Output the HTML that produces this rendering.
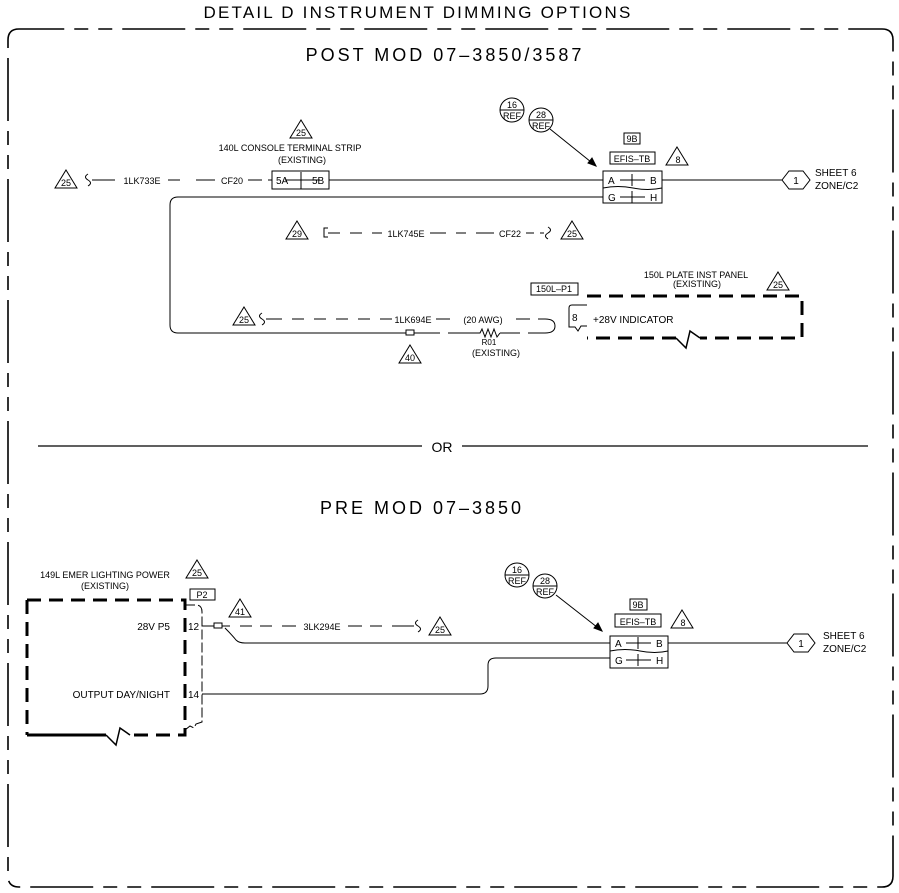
<!DOCTYPE html>
<html><head><meta charset="utf-8"><style>
html,body{margin:0;padding:0;background:#fff;}
svg{display:block;}
text{font-family:"Liberation Sans",sans-serif;fill:#000;}
</style></head><body>
<svg width="899" height="893" viewBox="0 0 899 893" xmlns="http://www.w3.org/2000/svg">
<defs>
<g id="tri"><path d="M0,-12 L11,6 L-11,6 Z" fill="none" stroke="#000" stroke-width="1"/></g>
</defs>
<path d="M8,40 Q8,29 19,29 L882,29 Q893,29 893,40 L893,876 Q893,887 882,887 L19,887 Q8,887 8,876 Z" fill="none" stroke="#000" stroke-width="1.6" stroke-dasharray="63 10 14 10 14 10"/>
<text x="418" y="18" font-size="17" text-anchor="middle" letter-spacing="2.2">DETAIL D INSTRUMENT DIMMING OPTIONS</text>
<text x="445" y="61" font-size="18" text-anchor="middle" letter-spacing="3">POST MOD 07–3850/3587</text>

<g stroke="#000" fill="none" stroke-width="1">
<path d="M88,174 q-5,3 0,6 q5,3 0,6"/>
<path d="M92,180 L115,180 M168,180 L180,180 M196,180 L215,180 M248,180 L262,180 M268,180 L272,180" />
<rect x="272" y="171" width="57" height="18"/>
<path d="M285,180 L320,180 M301,172 L301,189"/>
<path d="M329,180 L603,180"/>
<rect x="603" y="171" width="59" height="32"/>
<path d="M603,188 q15,-3 30,0 q15,3 29,0"/>
<path d="M620,180 L645,180 M632,174 L632,186 M620,197 L645,197 M632,191 L632,203"/>
<path d="M662,180 L782,180"/>
<path d="M782,180 L789,171 L803,171 L810,180 L803,189 L789,189 Z"/>
<path d="M603,197 L178,197 Q170,197 170,205 L170,325 Q170,333 178,333 L406,333"/>
<path d="M414,333 L440,333 M448,333 L470,333 M500,333 L520,333 M528,333 L545,333 Q555,333 555,326 Q555,319 545,319 L538,319 M530,319 L516,319 M450,319 L436,319 M392,319 L380,319 M370,319 L358,319 M348,319 L336,319 M326,319 L314,319 M304,319 L292,319 M282,319 L266,319"/>
<path d="M262,313 q-5,3 0,6 q5,3 0,6"/>
<path d="M470,333 L480,333 L482,329 L485,337 L488,329 L491,337 L494,329 L497,337 L500,333"/>
<rect x="406" y="330" width="8" height="5"/>
<path d="M328,228 L324,228 L324,237 L328,237 M328,233 L340,233 M350,233 L362,233 M372,233 L382,233 M430,233 L446,233 M456,233 L466,233 M476,233 L494,233 M526,233 L534,233 M540,233 L544,233"/>
<path d="M548,227 q5,3 0,6 q-5,3 0,6"/>
<path d="M587,296 L802,296 L802,338 L700,338 M676,338 L587,338" stroke-width="3" stroke-dasharray="14 8"/>
<path d="M700,338 L690,331 L686,348 L676,338" stroke-width="1.5"/>
<path d="M587,305 L572,305 Q569,305 569,308 L569,327 L575,327 L578,331 L581,326 L587,326" />
<rect x="531" y="283" width="47" height="12"/>
<circle cx="512" cy="110" r="12"/><path d="M500,110 L524,110"/>
<circle cx="541" cy="120" r="12"/><path d="M529,120 L553,120"/>
<path d="M550,129 L596,166"/>
<path d="M596,166 L588,163 L592,158 Z" fill="#000"/>
<rect x="624" y="133" width="16" height="11"/>
<rect x="610" y="152" width="45" height="12"/>

<path d="M38,446 L422,446 M462,446 L868,446" stroke-width="1.2"/>

<path d="M27,600 L185,600 L185,735 L130,735 M106,735 L27,735 Z" stroke-width="3" stroke-dasharray="14 8"/>
<path d="M27,600 L27,735" stroke-width="3" stroke-dasharray="14 8"/>
<path d="M130,735 L120,728 L116,745 L106,735" stroke-width="1.5"/>
<path d="M185,605 L196,605 Q202,605 202,612 L202,722 L196,724 L194,728 L190,726 L185,730" stroke-dasharray="10 3"/>
<rect x="190" y="589" width="25" height="11"/>
<path d="M202,626 L214,626"/>
<rect x="214" y="623" width="8" height="5"/>
<path d="M222,626 L230,626 M240,626 L252,626 M260,626 L272,626 M282,626 L296,626 M348,626 L362,626 M370,626 L382,626 M392,626 L414,626"/>
<path d="M418,620 q-5,3 0,6 q5,3 0,6"/>
<path d="M225,628 Q232,635 236,640 Q239,643 245,643 L610,643"/>
<path d="M202,694 L480,694 Q488,694 488,686 L488,665 Q488,658 496,658 L610,658"/>
<rect x="610" y="636" width="58" height="32"/>
<path d="M610,651 q15,-3 30,0 q15,3 28,0"/>
<path d="M626,643 L651,643 M638,637 L638,649 M626,660 L651,660 M638,654 L638,666"/>
<path d="M668,643 L787,643"/>
<path d="M787,643 L794,634 L808,634 L815,643 L808,652 L794,652 Z"/>
<circle cx="517" cy="575" r="12"/><path d="M505,575 L529,575"/>
<circle cx="545" cy="586" r="12"/><path d="M533,586 L557,586"/>
<path d="M556,595 L602,631"/>
<path d="M602,631 L594,628 L598,623 Z" fill="#000"/>
<rect x="630" y="599" width="17" height="11"/>
<rect x="615" y="614" width="46" height="13"/>
</g>

<use href="#tri" x="66" y="182"/>
<use href="#tri" x="301" y="132"/>
<use href="#tri" x="677" y="159"/>
<use href="#tri" x="297" y="233"/>
<use href="#tri" x="572" y="233"/>
<use href="#tri" x="778" y="284"/>
<use href="#tri" x="244" y="319"/>
<use href="#tri" x="410" y="357"/>
<use href="#tri" x="197" y="572"/>
<use href="#tri" x="240" y="611"/>
<use href="#tri" x="440" y="629"/>
<use href="#tri" x="682" y="622"/>

<g font-size="9" text-anchor="middle">
<text x="66" y="186">25</text>
<text x="301" y="136">25</text>
<text x="678" y="163">8</text>
<text x="297" y="237">29</text>
<text x="572" y="237">25</text>
<text x="778" y="288">25</text>
<text x="244" y="323">25</text>
<text x="410" y="361">40</text>
<text x="197" y="576">25</text>
<text x="240" y="615">41</text>
<text x="440" y="633">25</text>
<text x="683" y="626">8</text>
<text x="512" y="108">16</text><text x="512" y="119">REF</text>
<text x="541" y="118">28</text><text x="541" y="129">REF</text>
<text x="517" y="573">16</text><text x="517" y="584">REF</text>
<text x="545" y="584">28</text><text x="545" y="595">REF</text>
<text x="632" y="142">9B</text>
<text x="632" y="162">EFIS–TB</text>
<text x="638" y="608">9B</text>
<text x="638" y="625">EFIS–TB</text>
<text x="796" y="184" font-size="10">1</text>
<text x="801" y="647" font-size="10">1</text>
<text x="290" y="151">140L CONSOLE TERMINAL STRIP</text>
<text x="302" y="163">(EXISTING)</text>
<text x="142" y="184">1LK733E</text>
<text x="232" y="184">CF20</text>
<text x="406" y="237">1LK745E</text>
<text x="510" y="237">CF22</text>
<text x="413" y="323">1LK694E</text>
<text x="483" y="323">(20 AWG)</text>
<text x="489" y="345" font-size="8">R01</text>
<text x="496" y="356">(EXISTING)</text>
<text x="696" y="278">150L PLATE INST PANEL</text>
<text x="697" y="287">(EXISTING)</text>
<text x="554" y="292">150L–P1</text>
<text x="105" y="578">149L EMER LIGHTING POWER</text>
<text x="105" y="589">(EXISTING)</text>
<text x="202" y="598">P2</text>
<text x="322" y="630">3LK294E</text>
</g>
<g font-size="10">
<text x="276" y="184">5A</text><text x="312" y="184">5B</text>
<text x="608" y="184">A</text><text x="650" y="184">B</text>
<text x="608" y="201">G</text><text x="650" y="201">H</text>
<text x="615" y="647">A</text><text x="656" y="647">B</text>
<text x="615" y="664">G</text><text x="656" y="664">H</text>
<text x="815" y="176">SHEET 6</text>
<text x="815" y="189">ZONE/C2</text>
<text x="823" y="639">SHEET 6</text>
<text x="823" y="652">ZONE/C2</text>
<text x="572" y="321">8</text>
<text x="593" y="323">+28V INDICATOR</text>
<text x="170" y="630" text-anchor="end">28V P5</text>
<text x="188" y="630">12</text>
<text x="170" y="698" text-anchor="end">OUTPUT DAY/NIGHT</text>
<text x="188" y="698">14</text>
</g>
<text x="442" y="452" font-size="14" text-anchor="middle">OR</text>
<text x="422" y="514" font-size="18" text-anchor="middle" letter-spacing="3">PRE MOD 07–3850</text>
</svg>
</body></html>
